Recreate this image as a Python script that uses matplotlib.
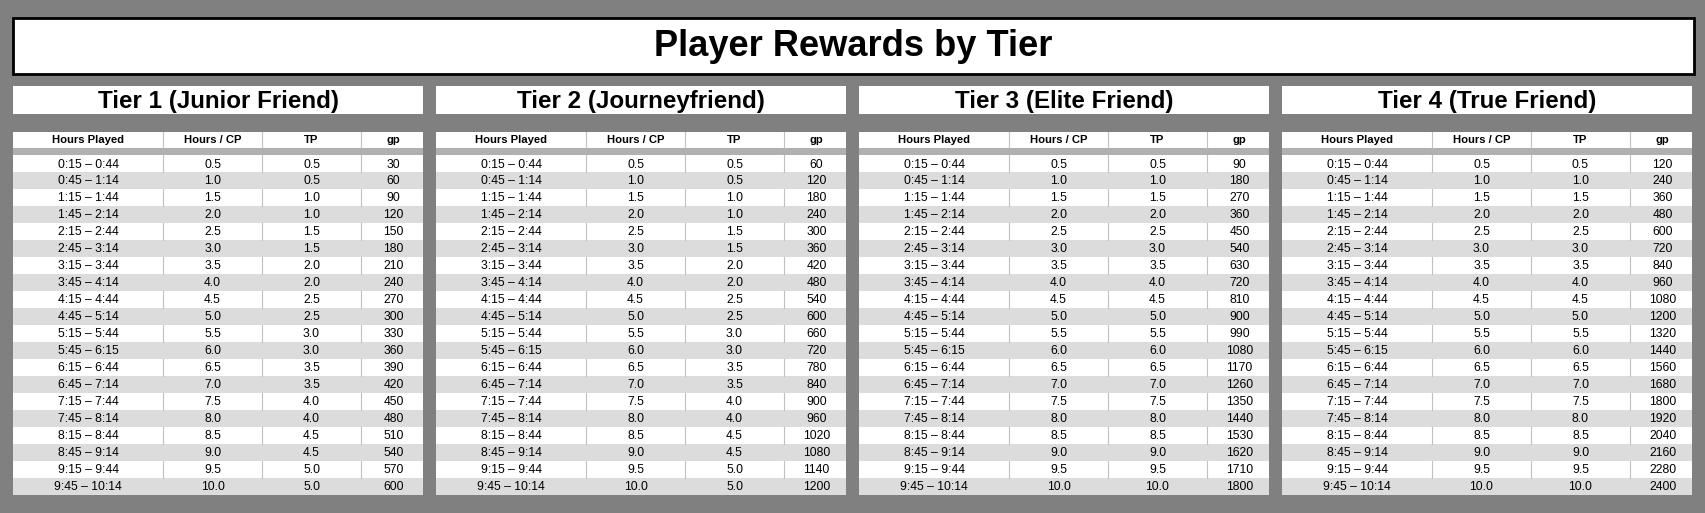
import matplotlib.pyplot as plt
from matplotlib.patches import Rectangle

hours_played = ["0:15 – 0:44", "0:45 – 1:14", "1:15 – 1:44", "1:45 – 2:14", "2:15 – 2:44",
                 "2:45 – 3:14", "3:15 – 3:44", "3:45 – 4:14", "4:15 – 4:44", "4:45 – 5:14",
                 "5:15 – 5:44", "5:45 – 6:15", "6:15 – 6:44", "6:45 – 7:14", "7:15 – 7:44",
                 "7:45 – 8:14", "8:15 – 8:44", "8:45 – 9:14", "9:15 – 9:44", "9:45 – 10:14"]
hours_cp = [0.5, 1.0, 1.5, 2.0, 2.5, 3.0, 3.5, 4.0, 4.5, 5.0,
            5.5, 6.0, 6.5, 7.0, 7.5, 8.0, 8.5, 9.0, 9.5, 10.0]
tp_low = [0.5, 0.5, 1.0, 1.0, 1.5, 1.5, 2.0, 2.0, 2.5, 2.5,
          3.0, 3.0, 3.5, 3.5, 4.0, 4.0, 4.5, 4.5, 5.0, 5.0]
tp_high = [0.5, 1.0, 1.5, 2.0, 2.5, 3.0, 3.5, 4.0, 4.5, 5.0,
           5.5, 6.0, 6.5, 7.0, 7.5, 8.0, 8.5, 9.0, 9.5, 10.0]
gp_tier1 = [30, 60, 90, 120, 150, 180, 210, 240, 270, 300, 330, 360, 390, 420, 450, 480, 510, 540, 570, 600]
gp_tier2 = [60, 120, 180, 240, 300, 360, 420, 480, 540, 600, 660, 720, 780, 840, 900, 960, 1020, 1080, 1140, 1200]
gp_tier3 = [90, 180, 270, 360, 450, 540, 630, 720, 810, 900, 990, 1080, 1170, 1260, 1350, 1440, 1530, 1620, 1710, 1800]
gp_tier4 = [120, 240, 360, 480, 600, 720, 840, 960, 1080, 1200, 1320, 1440, 1560, 1680, 1800, 1920, 2040, 2160, 2280, 2400]
tier_names = ["Tier 1 (Junior Friend)", "Tier 2 (Journeyfriend)", "Tier 3 (Elite Friend)", "Tier 4 (True Friend)"]
tier_tp = [tp_low, tp_low, tp_high, tp_high]
tier_gp = [gp_tier1, gp_tier2, gp_tier3, gp_tier4]
columns = ["Hours Played", "Hours / CP", "TP", "gp"]

# layout units are those of a 1568-wide view; scale up to the real pixel size
W, H = 1705, 513
S = W / 1568
fig = plt.figure(figsize=(W / 100, H / 100), dpi=100, facecolor="#808080")
ax = fig.add_axes([0, 0, 1, 1])
ax.set_xlim(0, W / S)
ax.set_ylim(H / S, 0)
ax.axis("off")

ax.add_patch(Rectangle((12, 17), 1546, 51, facecolor="white", edgecolor="black", lw=2))
ax.text(785, 43, "Player Rewards by Tier", ha="center", va="center", fontsize=24 * S,
        fontweight="bold", family="Liberation Sans")

col_w = [138, 91, 91, 57]
row_h = 15.6
for t in range(4):
    x0 = 12 + t * 389
    pw = sum(col_w)
    ax.add_patch(Rectangle((x0, 79), pw, 26, facecolor="white", lw=0))
    ax.text(x0 + pw / 2, 93, tier_names[t], ha="center", va="center", fontsize=16 * S,
            fontweight="bold", family="Liberation Sans")
    edges = [x0]
    for w in col_w:
        edges.append(edges[-1] + w)
    centers = [(edges[i] + edges[i + 1]) / 2 for i in range(3)] + [edges[3] + 30]
    ax.add_patch(Rectangle((x0, 121), pw, 15, facecolor="white", lw=0))
    ax.add_patch(Rectangle((x0, 136), pw, 7, facecolor="#b0b0b0", lw=0))
    for c, name in enumerate(columns):
        ax.text(centers[c], 129, name, ha="center", va="center", fontsize=7.5 * S,
                fontweight="bold", family="Liberation Sans")
    for e in edges[1:4]:
        ax.plot([e, e], [121, 136], color="#c0c0c0", lw=0.8)
    for r in range(len(hours_played)):
        y = 143 + r * row_h
        shade = "white" if r % 2 == 0 else "#dcdcdc"
        ax.add_patch(Rectangle((x0, y), pw, row_h, facecolor=shade, lw=0))
        if r % 2 == 0:
            for e in edges[1:4]:
                ax.plot([e, e], [y, y + row_h], color="#c0c0c0", lw=0.8)
        vals = [hours_played[r], f"{hours_cp[r]:.1f}", f"{tier_tp[t][r]:.1f}", str(tier_gp[t][r])]
        for c, v in enumerate(vals):
            ax.text(centers[c], y + row_h / 2 + 0.5, v, ha="center", va="center", fontsize=8 * S,
                    family="Liberation Sans")

fig.savefig("out.png", dpi=100, facecolor=fig.get_facecolor())
